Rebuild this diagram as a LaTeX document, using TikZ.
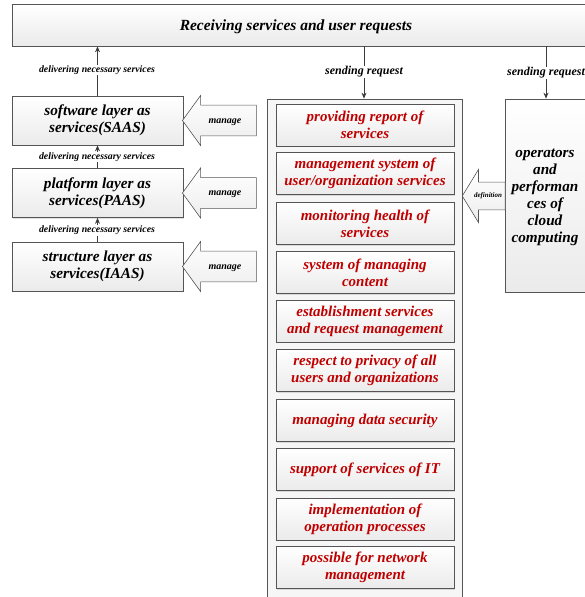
\documentclass[tikz,border=0pt]{standalone}
\usepackage{fontspec}
\setmainfont{Liberation Serif}
\usetikzlibrary{shapes.arrows,shadows,arrows.meta}
\definecolor{redtxt}{RGB}{192,0,0}
\definecolor{edgec}{RGB}{85,85,85}
\definecolor{linec}{RGB}{60,60,60}
\begin{document}
\begin{tikzpicture}[x=1pt,y=-1pt,
  gbox/.style={draw=edgec, line width=0.7pt, top color=white, bottom color=gray!16,
     drop shadow={shadow xshift=1.2pt, shadow yshift=-1.2pt, opacity=0.25}},
  layerbox/.style={gbox, minimum width=171pt, minimum height=49pt, inner sep=0pt, align=center,
     font=\fontsize{15.3}{17}\selectfont\bfseries\itshape},
  redbox/.style={gbox, minimum width=178pt, minimum height=42pt, inner sep=0pt, align=center,
     text=redtxt, font=\fontsize{15}{17}\selectfont\bfseries\itshape},
  conn/.style={draw=linec, line width=0.8pt, -{Stealth[length=6pt,width=5pt]}},
  lbl/.style={fill=white, inner sep=1pt, font=\fontsize{9.8}{11}\selectfont\bfseries\itshape},
  slbl/.style={fill=white, inner sep=1pt, font=\fontsize{12}{13}\selectfont\bfseries\itshape},
  manarrow/.style={single arrow, shape border rotate=180, draw=edgec, line width=0.6pt,
     top color=white, bottom color=gray!14, minimum height=74pt, minimum width=50pt,
     single arrow tip angle=108, single arrow head indent=0pt,
     text height=7pt, text depth=2pt, inner xsep=2pt, inner ysep=6.5pt,
     font=\fontsize{10}{11}\selectfont\bfseries\itshape},
]
\useasboundingbox (0,0) rectangle (584,597);
% top bar
\node[gbox, minimum width=580pt, minimum height=42pt, inner sep=0pt] (top) at (302,25) {};
\node[font=\fontsize{15.5}{17}\selectfont\bfseries\itshape] (toptxt) at (296,27) {Receiving services and user requests};
% layer boxes
\node[layerbox] (saas) at (97.5,120.5) {software layer as\\services(SAAS)};
\node[layerbox] (paas) at (97.5,193) {platform layer as\\services(PAAS)};
\node[layerbox] (iaas) at (97.5,266.5) {structure layer as\\services(IAAS)};
% container
\node[draw=edgec, line width=0.7pt, fill=gray!7, minimum width=195pt, minimum height=505pt, inner sep=0pt] (cont) at (364.5,351.5) {};
% operators box
\node[gbox, minimum width=90pt, minimum height=193pt, inner sep=0pt] (oper) at (550,195.5) {};
\node[align=center, font=\fontsize{15.2}{17}\selectfont\bfseries\itshape] (opertxt) at (545,197) {operators\\and\\performan\\ces of\\cloud\\computing};
% red boxes
\node[redbox] (r1) at (365,125) {providing report of\\services};
\node[redbox] (r2) at (365,173.5) {management system of\\user/organization services};
\node[redbox] (r3) at (365,223.5) {monitoring health of\\services};
\node[redbox] (r4) at (365,272.5) {system of managing\\content};
\node[redbox] (r5) at (365,321) {establishment services\\and request management};
\node[redbox] (r6) at (365,370.5) {respect to privacy of all\\users and organizations};
\node[redbox] (r7) at (365,420.5) {managing data security};
\node[redbox] (r8) at (365,469.5) {support of services of IT};
\node[redbox] (r9) at (365,519) {implementation of\\operation processes};
\node[redbox] (r10) at (365,567.5) {possible for network\\management};
% manage arrows
\node[manarrow] (m1) at (225,120.5) {manage};
\node[manarrow] (m2) at (225,193) {manage};
\node[manarrow] (m3) at (225,266.5) {manage};
% definition arrow
\node[manarrow, minimum height=43pt, minimum width=53pt, single arrow tip angle=117,
      text height=4.5pt, text depth=1.5pt, inner ysep=4.5pt, inner xsep=1pt,
      font=\fontsize{7}{8}\selectfont\bfseries\itshape] (def) at (488,196) {definition};
% connectors
\draw[conn] (saas.north) -- (saas.north |- top.south);
\node[lbl] (d1) at (97,70) {delivering necessary services};
\draw[conn] (paas.north) -- (saas.south);
\node[lbl] (d2) at (97,157) {delivering necessary services};
\draw[conn] (iaas.north) -- (paas.south);
\node[lbl] (d3) at (97,230.5) {delivering necessary services};
\coordinate (c1) at (364,46);
\coordinate (c2) at (546,46);
\draw[conn] (c1) -- (c1 |- cont.north);
\node[slbl] (s1) at (364,72) {sending request};
\draw[conn] (c2) -- (c2 |- oper.north);
\node[slbl] (s2) at (546,73) {sending request};
\end{tikzpicture}
\end{document}
